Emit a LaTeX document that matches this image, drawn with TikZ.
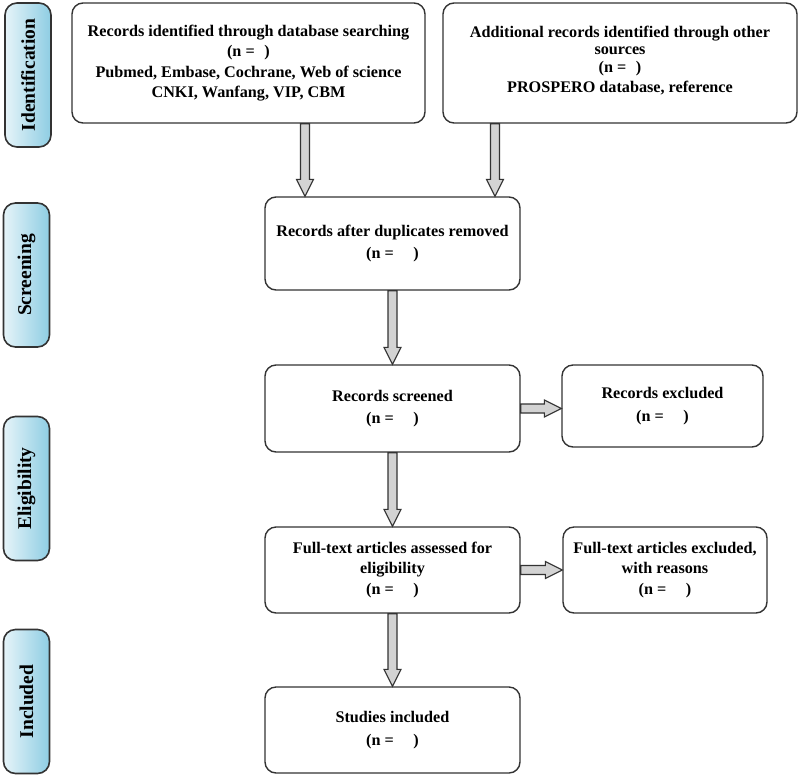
\documentclass[tikz,border=0pt]{standalone}
\usepackage{fontspec}
\setmainfont{Liberation Serif}
\usetikzlibrary{calc}
\definecolor{edge}{HTML}{333333}
\definecolor{arrfill}{HTML}{D3D3D3}
\definecolor{lblL}{HTML}{E6F4F9}
\definecolor{lblR}{HTML}{8ECDE3}
\tikzset{
 box/.style={draw=edge, line width=1.4pt, rounded corners=11pt, fill=white, align=center,
   font=\fontsize{16.2}{20.5}\selectfont\bfseries, inner sep=2pt},
 phase/.style={draw=edge, line width=1.6pt, rounded corners=12pt, left color=lblL, right color=lblR,
   minimum width=46pt, minimum height=144pt, font=\fontsize{19.5}{22}\selectfont\bfseries, inner sep=0pt},
 barrowstyle/.style={draw=edge, line width=1.1pt, fill=arrfill, line join=miter}
}
\newcommand\barrow[2]{%
 \coordinate (ba-h) at ($(#2)!17pt!(#1)$);
 \draw[barrowstyle] ($(#1)!4.5pt!90:(#2)$) -- ($(ba-h)!4.5pt!-90:(#1)$) -- ($(ba-h)!8.5pt!-90:(#1)$)
   -- (#2) -- ($(ba-h)!8.5pt!90:(#1)$) -- ($(ba-h)!4.5pt!90:(#1)$) -- ($(#1)!4.5pt!-90:(#2)$) -- cycle;}
\newcommand\nblank[1]{(n =\hspace{#1})}
\begin{document}
\begin{tikzpicture}[x=1pt, y=-1pt]
\useasboundingbox (0,0) rectangle (800,777);
% phase labels
\node[phase] (lid) at (28,75) {\rotatebox{90}{Identification}};
\node[phase] (lsc) at (26.5,275) {\rotatebox{90}{Screening}};
\node[phase] (lel) at (26.5,488.5) {\rotatebox{90}{Eligibility}};
\node[phase] (lin) at (26.5,701.5) {\rotatebox{90}{Included}};
% boxes
\node[box, minimum width=353pt, minimum height=120pt] (b1) at (248.5,63)
 {Records identified through database searching\\ \nblank{0.6em}\\ Pubmed, Embase, Cochrane, Web of science\\ CNKI, Wanfang, VIP, CBM};
\node[box, minimum width=354pt, minimum height=120pt] (b2) at (620,63)
 {Additional records identified through other\\[-3pt] sources\\[-3pt] \nblank{0.6em}\\ PROSPERO database, reference\\[-13pt]\mbox{}};
\node[box, minimum width=255pt, minimum height=93pt] (b3) at (392.5,243.5)
 {Records after duplicates removed\\[2pt] \nblank{1.2em}};
\node[box, minimum width=255pt, minimum height=87pt] (b4) at (392.5,408.5)
 {Records screened\\[2pt] \nblank{1.2em}};
\node[box, minimum width=201pt, minimum height=82pt] (b5) at (662.5,406)
 {Records excluded\\[2pt] \nblank{1.2em}};
\node[box, minimum width=255pt, minimum height=86pt] (b6) at (392.5,570)
 {Full-text articles assessed for\\ eligibility\\ \nblank{1.2em}};
\node[box, minimum width=204pt, minimum height=86pt] (b7) at (665,570)
 {Full-text articles excluded,\\ with reasons\\ \nblank{1.2em}};
\node[box, minimum width=255pt, minimum height=86pt] (b8) at (392.5,730)
 {Studies included\\[2pt] \nblank{1.2em}};
% connectors
\coordinate (s1) at ([xshift=56.5pt]b1.south);
\coordinate (t1) at (s1 |- b3.north);
\barrow{s1}{t1}
\coordinate (s2) at ([xshift=-125pt]b2.south);
\coordinate (t2) at (s2 |- b3.north);
\barrow{s2}{t2}
\barrow{b3.south}{b4.north}
\coordinate (t5) at (b4.east -| b5.west);
\barrow{b4.east}{t5}
\barrow{b4.south}{b6.north}
\coordinate (t7) at (b6.east -| b7.west);
\barrow{b6.east}{t7}
\barrow{b6.south}{b8.north}
\end{tikzpicture}
\end{document}
